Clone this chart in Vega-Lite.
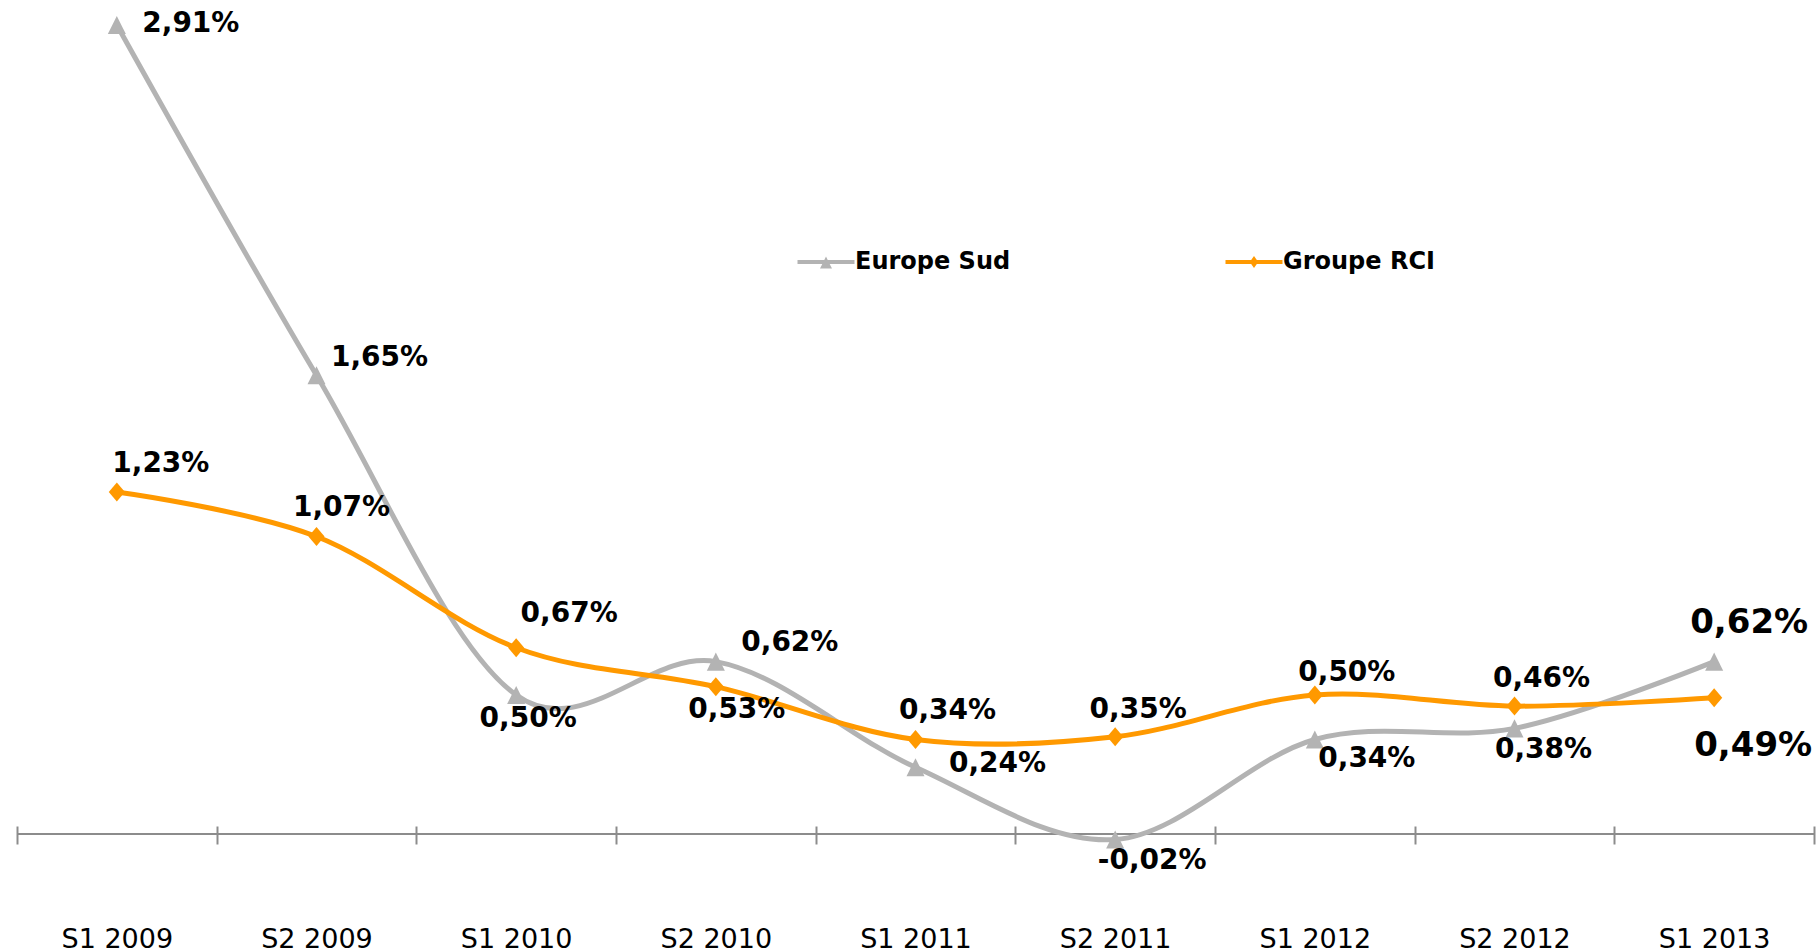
{
  "$schema": "https://vega.github.io/schema/vega-lite/v6.json",
  "width": 1797,
  "height": 834,
  "autosize": {"type": "none"},
  "padding": {"left": 17, "top": 0, "right": 3, "bottom": 118},
  "config": {
    "view": {"stroke": null},
    "locale": {"number": {"decimal": ",", "thousands": " ", "grouping": [3], "currency": ["", " €"], "minus": "-"}},
    "text": {"font": "DejaVu Sans", "fontWeight": "bold", "fontSize": 28, "color": "#000000", "align": "center", "baseline": "middle"}
  },
  "data": {
    "values": [
      {"period": "S1 2009", "series": "Europe Sud", "value": 0.0291},
      {"period": "S2 2009", "series": "Europe Sud", "value": 0.0165},
      {"period": "S1 2010", "series": "Europe Sud", "value": 0.0050},
      {"period": "S2 2010", "series": "Europe Sud", "value": 0.0062},
      {"period": "S1 2011", "series": "Europe Sud", "value": 0.0024},
      {"period": "S2 2011", "series": "Europe Sud", "value": -0.0002},
      {"period": "S1 2012", "series": "Europe Sud", "value": 0.0034},
      {"period": "S2 2012", "series": "Europe Sud", "value": 0.0038},
      {"period": "S1 2013", "series": "Europe Sud", "value": 0.0062},
      {"period": "S1 2009", "series": "Groupe RCI", "value": 0.0123},
      {"period": "S2 2009", "series": "Groupe RCI", "value": 0.0107},
      {"period": "S1 2010", "series": "Groupe RCI", "value": 0.0067},
      {"period": "S2 2010", "series": "Groupe RCI", "value": 0.0053},
      {"period": "S1 2011", "series": "Groupe RCI", "value": 0.0034},
      {"period": "S2 2011", "series": "Groupe RCI", "value": 0.0035},
      {"period": "S1 2012", "series": "Groupe RCI", "value": 0.0050},
      {"period": "S2 2012", "series": "Groupe RCI", "value": 0.0046},
      {"period": "S1 2013", "series": "Groupe RCI", "value": 0.0049}
    ]
  },
  "layer": [
    {
      "mark": {"type": "rule", "color": "#8c8c8c", "strokeWidth": 2},
      "encoding": {"y": {"datum": 0, "type": "quantitative", "scale": {"domain": [0, 0.03], "nice": false, "zero": false}, "axis": null}}
    },
    {
      "encoding": {
        "x": {
          "field": "period", "type": "ordinal",
          "scale": {"domain": ["S1 2009", "S2 2009", "S1 2010", "S2 2010", "S1 2011", "S2 2011", "S1 2012", "S2 2012", "S1 2013"], "paddingInner": 0, "paddingOuter": 0},
          "axis": {"title": null, "orient": "bottom", "offset": -8, "domain": false, "grid": false, "ticks": true, "tickBand": "extent", "tickSize": 18, "tickColor": "#8c8c8c", "tickWidth": 2, "labelFont": "DejaVu Sans", "labelFontSize": 27, "labelColor": "#000000", "labelPadding": 82, "labelAngle": 0}
        },
        "y": {"field": "value", "type": "quantitative", "scale": {"domain": [0, 0.03], "nice": false, "zero": false}, "axis": null}
      },
      "layer": [
        {
          "mark": {"type": "line", "interpolate": "cardinal", "strokeWidth": 5, "strokeCap": "round", "strokeJoin": "round"},
          "encoding": {
            "color": {
              "field": "series", "type": "nominal",
              "scale": {"domain": ["Europe Sud", "Groupe RCI"], "range": ["#b3b3b3", "#ff9900"]},
              "legend": {
                "title": null, "orient": "none", "legendX": 797, "legendY": 250, "direction": "horizontal",
                "padding": 0, "symbolSize": 144, "symbolStrokeWidth": 0,
                "labelFont": "DejaVu Sans", "labelFontWeight": "bold", "labelFontSize": 24, "labelColor": "#000000",
                "labelOffset": 17, "labelLimit": 400, "columnPadding": 214,
                "encode": {"symbols": {"update": {
                  "shape": {"signal": "datum.value === 'Europe Sud' ? 'M-4.75,-0.33L-0.285,-0.33L0,-0.9L0.285,-0.33L4.75,-0.33L4.75,0.33L0.615,0.33L1,1.1L-1,1.1L-0.615,0.33L-4.75,0.33Z' : 'M-4.75,-0.33L-0.469,-0.33L0,-1L0.469,-0.33L4.75,-0.33L4.75,0.33L0.469,0.33L0,1L-0.469,0.33L-4.75,0.33Z'"},
                  "fill": {"signal": "datum.value === 'Europe Sud' ? '#b3b3b3' : '#ff9900'"},
                  "stroke": {"value": "transparent"},
                  "opacity": {"value": 1}
                }}}
              }
            }
          }
        },
        {
          "transform": [{"filter": "datum.series === 'Europe Sud'"}],
          "mark": {"type": "point", "filled": true, "opacity": 1, "size": 361, "shape": "M0,-0.95L0.95,0.95L-0.95,0.95Z"},
          "encoding": {"color": {"field": "series", "type": "nominal", "legend": null}}
        },
        {
          "transform": [{"filter": "datum.series === 'Groupe RCI'"}],
          "mark": {"type": "point", "filled": true, "opacity": 1, "size": 361, "shape": "M0,-1L0.85,0L0,1L-0.85,0Z"},
          "encoding": {"color": {"field": "series", "type": "nominal", "legend": null}}
        },
        {"transform": [{"filter": "datum.series === 'Europe Sud' && datum.period === 'S1 2009'"}], "mark": {"type": "text", "dx": 74, "dy": -1}, "encoding": {"text": {"field": "value", "type": "quantitative", "format": ".2%"}}},
        {"transform": [{"filter": "datum.series === 'Europe Sud' && datum.period === 'S2 2009'"}], "mark": {"type": "text", "dx": 63, "dy": -17}, "encoding": {"text": {"field": "value", "type": "quantitative", "format": ".2%"}}},
        {"transform": [{"filter": "datum.series === 'Europe Sud' && datum.period === 'S1 2010'"}], "mark": {"type": "text", "dx": 12, "dy": 24}, "encoding": {"text": {"field": "value", "type": "quantitative", "format": ".2%"}}},
        {"transform": [{"filter": "datum.series === 'Europe Sud' && datum.period === 'S2 2010'"}], "mark": {"type": "text", "dx": 74, "dy": -19}, "encoding": {"text": {"field": "value", "type": "quantitative", "format": ".2%"}}},
        {"transform": [{"filter": "datum.series === 'Europe Sud' && datum.period === 'S1 2011'"}], "mark": {"type": "text", "dx": 82, "dy": -3}, "encoding": {"text": {"field": "value", "type": "quantitative", "format": ".2%"}}},
        {"transform": [{"filter": "datum.series === 'Europe Sud' && datum.period === 'S2 2011'"}], "mark": {"type": "text", "dx": 37, "dy": 21}, "encoding": {"text": {"field": "value", "type": "quantitative", "format": ".2%"}}},
        {"transform": [{"filter": "datum.series === 'Europe Sud' && datum.period === 'S1 2012'"}], "mark": {"type": "text", "dx": 52, "dy": 20}, "encoding": {"text": {"field": "value", "type": "quantitative", "format": ".2%"}}},
        {"transform": [{"filter": "datum.series === 'Europe Sud' && datum.period === 'S2 2012'"}], "mark": {"type": "text", "dx": 29, "dy": 22}, "encoding": {"text": {"field": "value", "type": "quantitative", "format": ".2%"}}},
        {"transform": [{"filter": "datum.series === 'Europe Sud' && datum.period === 'S1 2013'"}], "mark": {"type": "text", "dx": 35, "dy": -39, "fontSize": 34}, "encoding": {"text": {"field": "value", "type": "quantitative", "format": ".2%"}}},
        {"transform": [{"filter": "datum.series === 'Groupe RCI' && datum.period === 'S1 2009'"}], "mark": {"type": "text", "dx": 44, "dy": -28}, "encoding": {"text": {"field": "value", "type": "quantitative", "format": ".2%"}}},
        {"transform": [{"filter": "datum.series === 'Groupe RCI' && datum.period === 'S2 2009'"}], "mark": {"type": "text", "dx": 25, "dy": -29}, "encoding": {"text": {"field": "value", "type": "quantitative", "format": ".2%"}}},
        {"transform": [{"filter": "datum.series === 'Groupe RCI' && datum.period === 'S1 2010'"}], "mark": {"type": "text", "dx": 53, "dy": -34}, "encoding": {"text": {"field": "value", "type": "quantitative", "format": ".2%"}}},
        {"transform": [{"filter": "datum.series === 'Groupe RCI' && datum.period === 'S2 2010'"}], "mark": {"type": "text", "dx": 21, "dy": 23}, "encoding": {"text": {"field": "value", "type": "quantitative", "format": ".2%"}}},
        {"transform": [{"filter": "datum.series === 'Groupe RCI' && datum.period === 'S1 2011'"}], "mark": {"type": "text", "dx": 32, "dy": -28}, "encoding": {"text": {"field": "value", "type": "quantitative", "format": ".2%"}}},
        {"transform": [{"filter": "datum.series === 'Groupe RCI' && datum.period === 'S2 2011'"}], "mark": {"type": "text", "dx": 23, "dy": -27}, "encoding": {"text": {"field": "value", "type": "quantitative", "format": ".2%"}}},
        {"transform": [{"filter": "datum.series === 'Groupe RCI' && datum.period === 'S1 2012'"}], "mark": {"type": "text", "dx": 32, "dy": -22}, "encoding": {"text": {"field": "value", "type": "quantitative", "format": ".2%"}}},
        {"transform": [{"filter": "datum.series === 'Groupe RCI' && datum.period === 'S2 2012'"}], "mark": {"type": "text", "dx": 27, "dy": -27}, "encoding": {"text": {"field": "value", "type": "quantitative", "format": ".2%"}}},
        {"transform": [{"filter": "datum.series === 'Groupe RCI' && datum.period === 'S1 2013'"}], "mark": {"type": "text", "dx": 39, "dy": 48, "fontSize": 34}, "encoding": {"text": {"field": "value", "type": "quantitative", "format": ".2%"}}}
      ]
    }
  ]
}
